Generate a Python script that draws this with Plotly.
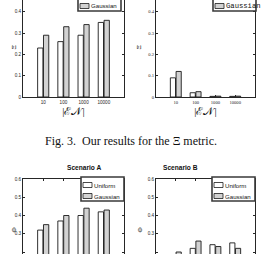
import plotly.graph_objects as go

W, H = 262, 254

categories = ["10", "100", "1000", "10000"]
series_names = ["Uniform", "Gaussian"]
series_fill = ["#ffffff", "#d2d2d2"]

xi_a_uniform = [0.23, 0.26, 0.29, 0.35]
xi_a_gaussian = [0.29, 0.33, 0.34, 0.36]
xi_b_uniform = [0.09, 0.02, 0.003, 0.003]
xi_b_gaussian = [0.12, 0.025, 0.004, 0.004]
phi_a_uniform = [0.32, 0.37, 0.40, 0.42]
phi_a_gaussian = [0.35, 0.40, 0.44, 0.43]
phi_b_uniform = [0.18, 0.22, 0.24, 0.25]
phi_b_gaussian = [0.20, 0.26, 0.23, 0.22]

caption = "Fig. 3.\u00a0 Our results for the \u039e metric."
xlabel = "|\u2130\U0001D4A9|"

def fx(px):
    return px / W

def fy(py):
    return 1 - py / H

AX = "#262626"
sans = "Liberation Sans"
serif = "Liberation Serif"
mono = "Liberation Mono"

panels = [
    dict(data=[xi_a_uniform, xi_a_gaussian], xpx=(23, 124), ypx=(0, 97), yr=(0, 97 / 213),
         ylab="\u039e", ylab_pos=(7, 43), xlab=xlabel, title=None, tfont=sans, lfont=sans, top=False),
    dict(data=[xi_b_uniform, xi_b_gaussian], xpx=(156, 255), ypx=(0, 97), yr=(0, 97 / 213),
         ylab="\u039e", ylab_pos=(138, 43), xlab=xlabel, title=None, tfont=serif, lfont=mono, top=False),
    dict(data=[phi_a_uniform, phi_a_gaussian], xpx=(23, 124), ypx=(179, 254), yr=(0.6 - 75 / 182.5, 0.6),
         ylab="\u03a6", ylab_pos=(7, 235), xlab=None, title="Scenario A", tfont=sans, lfont=sans, top=True),
    dict(data=[phi_b_uniform, phi_b_gaussian], xpx=(156, 255), ypx=(179, 254), yr=(0.6 - 75 / 182.5, 0.6),
         ylab="\u03a6", ylab_pos=(139, 235), xlab=None, title="Scenario B", tfont=sans, lfont=sans, top=True),
]
title_x = [None, None, 65, 200]
legend_pos = [(121, -13), (256, -13), (124, 177), (255, 177)]

fig = go.Figure()
shapes = []
annotations = []

for i, p in enumerate(panels):
    n = "" if i == 0 else str(i + 1)
    xa, ya = "x" + n, "y" + n
    for s, vals in enumerate(p["data"]):
        fig.add_trace(go.Bar(
            x=categories, y=vals, name=series_names[s], xaxis=xa, yaxis=ya,
            marker=dict(color=series_fill[s], line=dict(color="#1a1a1a", width=0.9)),
            showlegend=False,
        ))
    tickfont = dict(family=p["tfont"], size=4.6, color=AX)
    fig.layout["xaxis" + n] = dict(
        domain=[fx(p["xpx"][0]), fx(p["xpx"][1])], anchor=ya, range=[-1, 4],
        type="category", side="top" if p["top"] else "bottom",
        showline=True, linecolor=AX, linewidth=1, mirror=False,
        ticks="inside", ticklen=2, tickcolor=AX, showticklabels=not p["top"],
        tickfont=tickfont, showgrid=False, zeroline=False,
        title=dict(text=p["xlab"], font=dict(family=serif, size=11, color="#111"), standoff=1) if p["xlab"] else None,
    )
    fig.layout["yaxis" + n] = dict(
        domain=[fy(p["ypx"][1]), fy(p["ypx"][0])], anchor=xa, range=list(p["yr"]),
        dtick=0.1, tick0=0, showline=True, linecolor=AX, linewidth=1, mirror="ticks",
        ticks="inside", ticklen=2, tickcolor=AX, tickfont=tickfont,
        showgrid=False, zeroline=False,
    )
    annotations.append(dict(text=p["ylab"], x=fx(p["ylab_pos"][0]), y=fy(p["ylab_pos"][1]),
                            xref="paper", yref="paper", showarrow=False, textangle=-90,
                            font=dict(family=serif, size=7, color="#111")))
    if p["title"]:
        annotations.append(dict(text="<b>" + p["title"] + "</b>", x=fx(title_x[i]), y=fy(173),
                                xref="paper", yref="paper", showarrow=False,
                                font=dict(family=sans, size=6.6, color="#111")))
    # legend box
    right, top = legend_pos[i]
    bw, bh = 43, 24
    left = right - bw
    shapes.append(dict(type="rect", xref="paper", yref="paper", x0=fx(left), x1=fx(right),
                       y0=fy(top + bh), y1=fy(top), line=dict(color="#3a3a3a", width=1.6),
                       fillcolor="white", layer="above"))
    for s, name in enumerate(series_names):
        cy = top + 8 + 11 * s
        shapes.append(dict(type="rect", xref="paper", yref="paper", x0=fx(left + 2), x1=fx(left + 11),
                           y0=fy(cy + 2.5), y1=fy(cy - 2.5), line=dict(color="#1a1a1a", width=0.8),
                           fillcolor=series_fill[s], layer="above"))
        annotations.append(dict(text=name, x=fx(left + 11), y=fy(cy), xref="paper", yref="paper",
                                xanchor="left", yanchor="middle", showarrow=False,
                                font=dict(family=p["lfont"], size=6.1 if p["lfont"] != mono else 7.2, color="#111")))

annotations.append(dict(text=caption, x=0.5, y=fy(141), xref="paper", yref="paper",
                        showarrow=False, font=dict(family=serif, size=12, color="#111")))

fig.update_layout(
    width=W, height=H, margin=dict(l=0, r=0, t=0, b=0, autoexpand=False),
    paper_bgcolor="white", plot_bgcolor="white",
    barmode="group", bargap=0.42, bargroupgap=0.1,
    shapes=shapes, annotations=annotations, showlegend=False,
)

fig.write_html("out.html")
